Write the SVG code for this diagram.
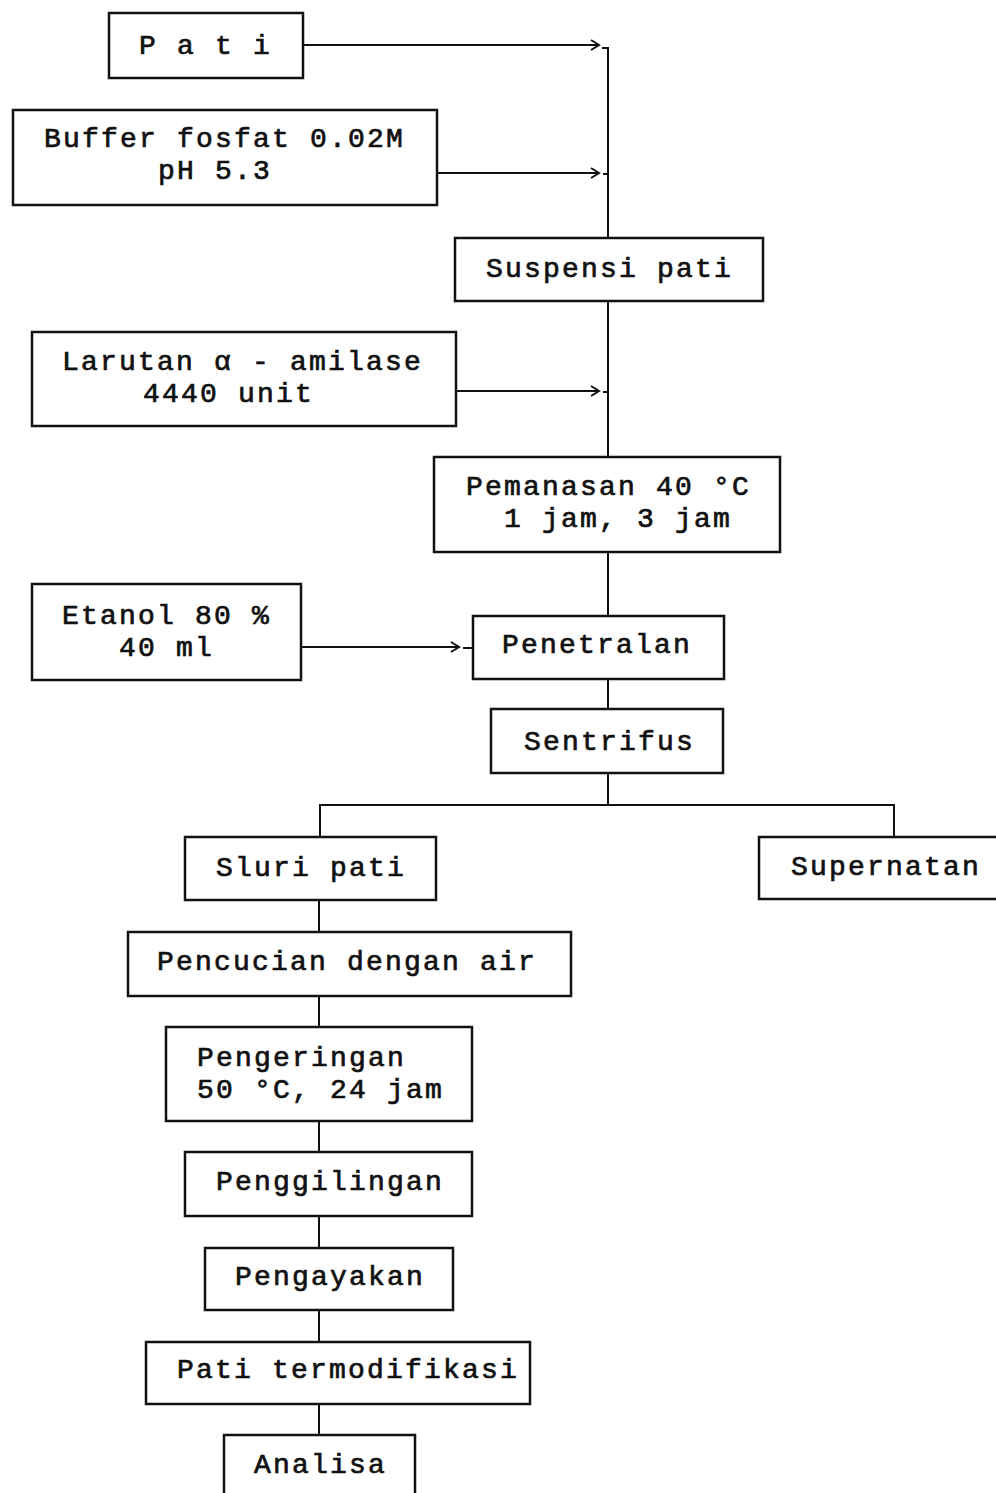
<svg xmlns="http://www.w3.org/2000/svg" width="996" height="1493" viewBox="0 0 996 1493">
<defs>
<style>
.box{fill:#fff;stroke:#111;stroke-width:2.5}
.ln{fill:none;stroke:#111;stroke-width:2}
text{font-family:"Liberation Mono","DejaVu Sans Mono",monospace;font-size:28px;letter-spacing:2.2px;fill:#111;stroke:#111;stroke-width:0.7}
</style>
<marker id="chev" markerUnits="userSpaceOnUse" markerWidth="12" markerHeight="14" refX="9" refY="6" orient="auto" viewBox="0 0 12 12">
<path d="M1,1 L9,6 L1,11" fill="none" stroke="#111" stroke-width="2"/>
</marker>
</defs>
<rect width="996" height="1493" fill="#fff"/>
<g id="connectors">
<line class="ln" x1="303" y1="45" x2="599" y2="45" marker-end="url(#chev)"/>
<path class="ln" d="M602,48 H608 V238"/>
<line class="ln" x1="438" y1="173" x2="599" y2="173" marker-end="url(#chev)"/>
<path class="ln" d="M603,174 H608"/>
<path class="ln" d="M608,301 V457"/>
<line class="ln" x1="456" y1="391" x2="599" y2="391" marker-end="url(#chev)"/>
<path class="ln" d="M603,392 H608"/>
<path class="ln" d="M608,552 V616"/>
<line class="ln" x1="301" y1="647" x2="459" y2="647" marker-end="url(#chev)"/>
<path class="ln" d="M463,648 H473"/>
<path class="ln" d="M608,679 V709"/>
<path class="ln" d="M608,773 V805"/>
<path class="ln" d="M320,837 V805 H894 V837"/>
<path class="ln" d="M319,900 V932"/>
<path class="ln" d="M319,996 V1027"/>
<path class="ln" d="M319,1121 V1152"/>
<path class="ln" d="M319,1216 V1248"/>
<path class="ln" d="M319,1310 V1342"/>
<path class="ln" d="M319,1404 V1435"/>
</g>
<g id="pati"><rect class="box" x="109" y="13" width="194" height="65"/><text x="139" y="54">P a t i</text></g>
<g id="buffer"><rect class="box" x="13" y="110" width="424" height="95"/><text x="44" y="147">Buffer fosfat 0.02M</text><text x="158" y="179">pH 5.3</text></g>
<g id="suspensi"><rect class="box" x="455" y="238" width="308" height="63"/><text x="486" y="277">Suspensi pati</text></g>
<g id="larutan"><rect class="box" x="32" y="332" width="424" height="94"/><text x="62" y="370">Larutan α - amilase</text><text x="143" y="402">4440 unit</text></g>
<g id="pemanasan"><rect class="box" x="434" y="457" width="346" height="95"/><text x="466" y="495">Pemanasan 40 °C</text><text x="504" y="527">1 jam, 3 jam</text></g>
<g id="etanol"><rect class="box" x="32" y="584" width="269" height="96"/><text x="62" y="624">Etanol 80 %</text><text x="119" y="656">40 ml</text></g>
<g id="penetralan"><rect class="box" x="473" y="616" width="251" height="63"/><text x="502" y="653">Penetralan</text></g>
<g id="sentrifus"><rect class="box" x="491" y="709" width="232" height="64"/><text x="524" y="750">Sentrifus</text></g>
<g id="sluri"><rect class="box" x="185" y="837" width="251" height="63"/><text x="216" y="876">Sluri pati</text></g>
<g id="supernatan"><rect class="box" x="759" y="837" width="250" height="62"/><text x="791" y="875">Supernatan</text></g>
<g id="pencucian"><rect class="box" x="128" y="932" width="443" height="64"/><text x="157" y="970">Pencucian dengan air</text></g>
<g id="pengeringan"><rect class="box" x="166" y="1027" width="306" height="94"/><text x="197" y="1066">Pengeringan</text><text x="197" y="1098">50 °C, 24 jam</text></g>
<g id="penggilingan"><rect class="box" x="185" y="1152" width="287" height="64"/><text x="216" y="1190">Penggilingan</text></g>
<g id="pengayakan"><rect class="box" x="205" y="1248" width="248" height="62"/><text x="235" y="1285">Pengayakan</text></g>
<g id="termodifikasi"><rect class="box" x="146" y="1342" width="384" height="62"/><text x="177" y="1378">Pati termodifikasi</text></g>
<g id="analisa"><rect class="box" x="224" y="1435" width="191" height="70"/><text x="254" y="1473">Analisa</text></g>
</svg>
